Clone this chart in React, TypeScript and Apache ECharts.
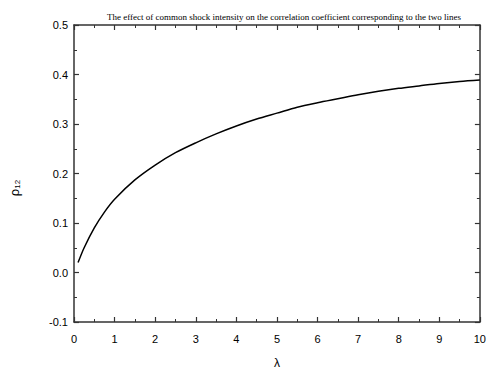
import React, { useEffect, useRef } from "react";
import * as echarts from "echarts";

const lambdaValues = [0.1, 0.25, 0.5, 0.75, 1, 1.5, 2, 2.5, 3, 3.5, 4, 4.5, 5, 5.5, 6, 6.5, 7, 7.5, 8, 8.5, 9, 9.5, 10];
const rhoValues = [0.020, 0.050, 0.090, 0.122, 0.148, 0.187, 0.217, 0.242, 0.262, 0.280, 0.296, 0.310, 0.322, 0.334, 0.343, 0.351, 0.359, 0.366, 0.372, 0.377, 0.382, 0.386, 0.389];
const titleText = "The effect of common shock intensity on the correlation coefficient corresponding to the two lines";

export default function App() {
  const ref = useRef<HTMLDivElement>(null);
  useEffect(() => {
    if (!ref.current) return;
    const chart = echarts.init(ref.current, null, { renderer: "svg" });
    const axisColor = "#333";
    const tickCommon = {
      axisLine: { show: true, onZero: false, lineStyle: { color: axisColor, width: 1.5 } },
      axisTick: { show: true, inside: true, length: 5, lineStyle: { color: axisColor, width: 1.2 } },
      minorTick: { show: true, splitNumber: 2, length: 3, lineStyle: { color: axisColor, width: 1 } },
      splitLine: { show: false },
    };
    chart.setOption({
      animation: false,
      backgroundColor: "#fff",
      title: {
        text: titleText,
        left: 279,
        textAlign: "center",
        top: 7,
        textStyle: { fontFamily: "Liberation Serif", fontSize: 9, fontWeight: "normal", color: "#000" },
      },
      graphic: [
        {
          type: "text",
          x: 14,
          y: 188,
          rotation: Math.PI / 2,
          style: {
            text: "{a|ρ}{b|12}",
            align: "center",
            verticalAlign: "middle",
            rich: {
              a: { fontFamily: "Liberation Sans", fontSize: 13, fill: "#000", verticalAlign: "bottom" },
              b: { fontFamily: "Liberation Sans", fontSize: 8, fill: "#000", padding: [6, 0, 0, 0], verticalAlign: "bottom" },
            },
          },
        },
      ],
      grid: { left: 74, right: 5, top: 25, bottom: 46, containLabel: false },
      xAxis: [
        {
          type: "value",
          min: 0,
          max: 10,
          interval: 1,
          position: "bottom",
          name: "λ",
          nameLocation: "middle",
          nameGap: 35,
          nameTextStyle: { fontFamily: "Liberation Sans", fontSize: 12, color: "#000" },
          axisLabel: { fontFamily: "Liberation Sans", fontSize: 11, color: "#000", margin: 11 },
          ...tickCommon,
        },
        {
          type: "value",
          min: 0,
          max: 10,
          interval: 1,
          position: "top",
          axisLabel: { show: false },
          ...tickCommon,
        },
      ],
      yAxis: [
        {
          type: "value",
          min: -0.1,
          max: 0.5,
          interval: 0.1,
          position: "left",
          axisLabel: {
            fontFamily: "Liberation Sans",
            fontSize: 11,
            color: "#000",
            margin: 6,
            formatter: (v: number) => (Math.round(v * 10) / 10).toFixed(1),
          },
          ...tickCommon,
        },
        {
          type: "value",
          min: -0.1,
          max: 0.5,
          interval: 0.1,
          position: "right",
          axisLabel: { show: false },
          ...tickCommon,
        },
      ],
      series: [
        {
          type: "line",
          xAxisIndex: 0,
          yAxisIndex: 0,
          data: lambdaValues.map((x, i) => [x, rhoValues[i]]),
          smooth: 0.3,
          showSymbol: false,
          lineStyle: { color: "#000", width: 1.5 },
        },
      ],
    });
    return () => chart.dispose();
  }, []);
  return <div ref={ref} style={{ width: 489, height: 374, position: "fixed", left: 0, top: 0 }} />;
}
